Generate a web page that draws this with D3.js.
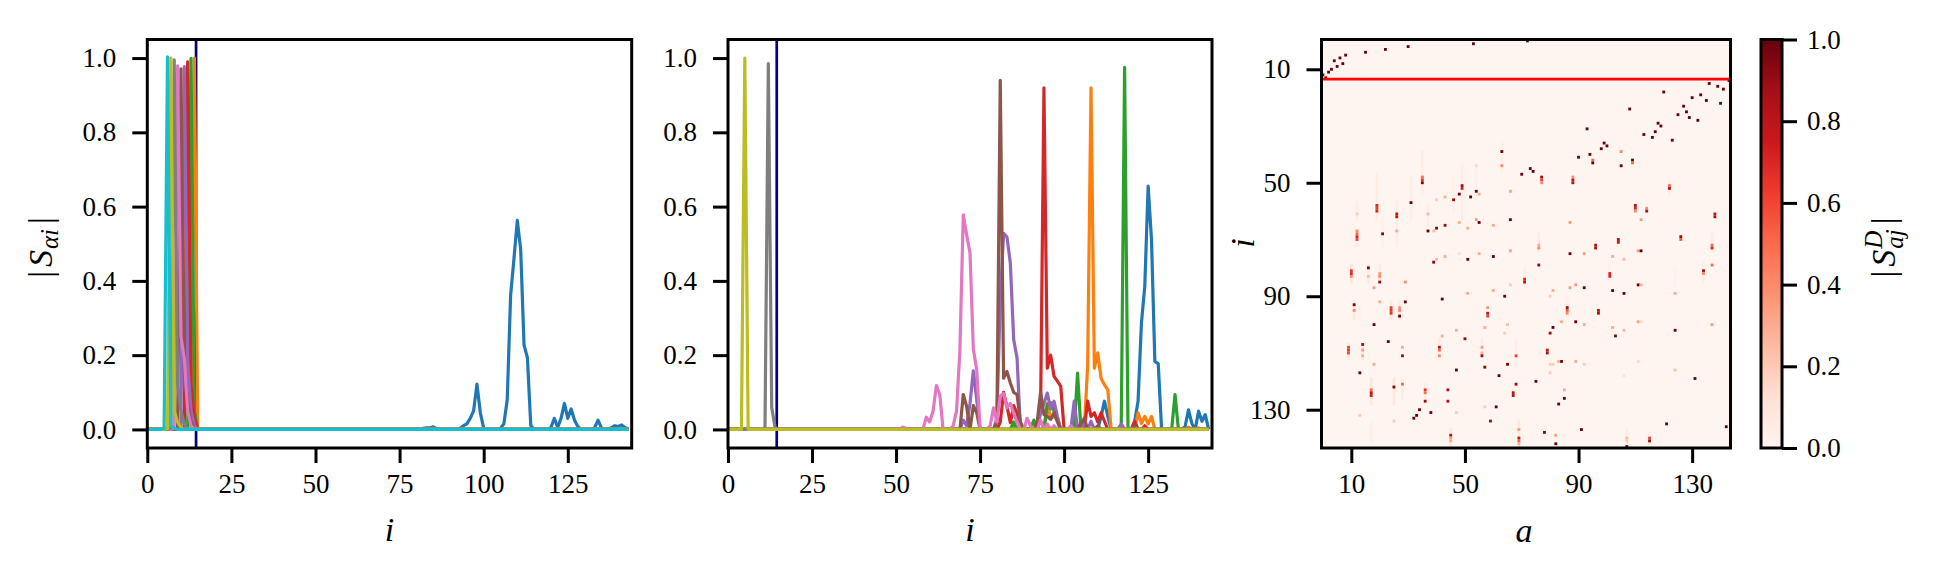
<!DOCTYPE html>
<html><head><meta charset="utf-8">
<script src="https://cdn.jsdelivr.net/npm/d3@7"></script>
<style>html,body{margin:0;padding:0;background:#fff}svg{display:block}text{font-family:"Liberation Serif",serif;fill:#000}</style>
</head><body><svg id="c" width="1942" height="579"></svg>
<script>
// ---------- data ----------
const lineTicks=[0,25,50,75,100,125];
const yTicks=[0,0.2,0.4,0.6,0.8,1.0];
const heatTicks=[10,50,90,130];
const cbarTicks=[0,0.2,0.4,0.6,0.8,1.0];
const markerLeft=14.5, markerHeat=13.5;

const left0=[[80,.002],[82,.003],[83,.004],[84,.004],[85,.007],[86,.002],[93,.003],[94,.01],[95,.015],[96,.03],[97,.05],[98,.122],[99,.045],[100,.003],[105,.003],[106,.015],[107,.08],[108,.36],[109,.46],[110,.563],[111,.484],[112,.227],[113,.193],[114,.01],[120,.005],[121,.03],[122,.005],[123,.03],[124,.07],[125,.03],[126,.055],[127,.025],[128,.008],[133,.005],[134,.025],[135,.004],[138,.005],[139,.01],[140,.008],[141,.012],[142,.005],[143,.002]];
const left1=[[13,.003],[14,1.0]];
const left2=[[12,.004],[13,.999],[14,.05]];
const left3=[[11,.003],[12,.99],[13,.12],[14,.03]];
const left4=[[10,.004],[11,.977],[12,.18],[13,.05],[14,.01]];
const left5=[[9,.003],[10,.971],[11,.16],[12,.07],[13,.02]];
const left6=[[8,.004],[9,.979],[10,.25],[11,.19],[12,.05],[13,.01]];
const left7=[[7,.003],[8,.995],[9,.12],[10,.05],[11,.015]];
const left8=[[6,.002],[7,1.0],[8,.05],[9,.02],[10,.005]];
const left9=[[5,.002],[6,1.003],[7,.01],[8,.003]];

const mid0=[[111,.035],[112,.076],[113,.035],[121,.022],[122,.076],[123,.286],[124,.385],[125,.655],[126,.511],[127,.183],[128,.177],[136,.008],[137,.053],[138,.016],[140,.049],[141,.022],[142,.04]];
const mid1=[[85,.01],[95,.07],[96,.03],[97,.035],[98,.027],[107,.17],[108,.92],[109,.165],[110,.206],[111,.138],[112,.12],[113,.107],[122,.045],[123,.016],[124,.035],[125,.015],[126,.035],[137,.006],[140,.004]];
const mid2=[[85,.02],[91,.025],[95,.067],[96,.072],[97,.05],[98,.03],[104,.152],[117,.01],[118,.975],[119,.005],[133,.094]];
const mid3=[[81,.02],[82,.1],[83,.062],[84,.018],[85,.064],[86,.044],[93,.05],[94,.92],[95,.165],[96,.2],[97,.143],[98,.13],[99,.116],[105,.018],[107,.076],[108,.035],[109,.045],[110,.02],[111,.045],[112,.022],[121,.022],[124,.01]];
const mid4=[[70,.025],[71,.01],[72,.07],[73,.158],[74,.08],[80,.03],[81,.35],[82,.528],[83,.518],[84,.448],[85,.242],[86,.192],[93,.045],[94,.07],[95,.098],[96,.055],[97,.076],[98,.035],[103,.076],[106,.02],[108,.022],[117,.015]];
const mid5=[[70,.094],[71,.062],[73,.064],[74,.045],[80,.02],[81,.94],[82,.138],[83,.156],[84,.125],[85,.1],[86,.094],[87,.02],[92,.02],[93,.1],[94,.04],[95,.035],[96,.027],[97,.045],[98,.02],[105,.015],[106,.03],[110,.01],[121,.01]];
const mid6=[[52,.006],[53,.003],[59,.033],[60,.02],[61,.049],[62,.118],[63,.094],[67,.01],[68,.05],[69,.215],[70,.578],[71,.524],[72,.475],[73,.215],[74,.161],[78,.01],[79,.058],[80,.02],[81,.09],[82,.097],[83,.058],[84,.07],[85,.044],[86,.02],[89,.03],[90,.01],[93,.025],[95,.015],[97,.01],[102,.01]];
const mid7=[[12,.985],[13,.06],[14,.005]];
const mid8=[[5,1.0]];

const leftSeries=[left0,left1,left2,left3,left4,left5,left6,left7,left8,left9];
const midSeries=[mid0,mid1,mid2,mid3,mid4,mid5,mid6,mid7,mid8];

// faint vertical runs: column, first row, last row, value
const heatRuns=[[12,57,63,.05],[19,47,63,.05],[26,57,68,.05],[31,48,63,.04],[35,39,54,.05],[37,58,65,.04],[49,44,63,.05],[46,48,60,.03],[63,36,46,.04],[54,44,52,.03],
[10,79,85,.1],[16,79,85,.06],[20,79,85,.08],[24,92,98,.07],[11,92,98,.08],[27,92,98,.06],[13,93,98,.03],[9,107,112,.08],[14,107,112,.08],[17,119,128,.08],[25,119,128,.08],[36,121,128,.05],[28,119,126,.05],[45,137,143,.08],[17,135,141,.05],[12,67,72,.06],[21,62,72,.03],[26,68,72,.04],[41,105,112,.05],[56,105,111,.05],[76,68,74,.06],[137,68,74,.06],[134,78,85,.04],[101,78,84,.03],[71,80,86,.04],[122,49,54,.04],[96,70,74,.03],[69,134,143,.07],[107,137,143,.06],[78,135,140,.04],[115,138,142,.04],[124,80,86,.03],[68,105,112,.04],[86,90,97,.04]];

// cells: column, row, value
const heatCells=[[0,12,1],[1,13,1],[2,11,1],[3,10,1],[4,7,1],[5,9,1],[6,6,1],[7,8,1],[8,5,1],[15,4,1],[22,3,1],[30,2,1],[53,1,1],[72,0,1],
[143,14,1],[136,15,1],[139,16,1],[141,17,1],[120,18,1],[133,19,1],[130,20,1],[135,21,1],[140,22,1],[127,23,1],[108,24,1],[128,25,1],[125,26,1],[129,27,1],[132,28,1],[118,29,1],[119,30,1],[93,31,1],[117,32,1],[113,33,1],[116,34,1],[123,35,1],[99,36,1],[100,37,1],[98,38,1],[105,39,.4],[63,39,1],[94,40,1],[90,41,1],[109,42,1],[109,43,.5],[95,42,.5],[95,43,1],[105,44,1],[63,44,.4],[73,45,1],[74,46,1],[70,47,1],
[77,48,.9],[77,49,.6],[77,50,.4],[88,48,.4],[88,49,.8],[88,50,.85],[122,51,.5],[122,52,.8],[66,53,.3],[110,58,.85],[110,59,.7],[110,60,.4],[114,59,.4],[114,60,.85],[138,61,.8],[138,62,.85],[66,63,1],[112,63,.35],[87,64,.35],[126,69,.9],[126,70,.55],[104,70,.85],[104,71,.75],[137,72,.5],[137,73,.7],[76,72,.3],[76,73,.4],[96,72,.8],[96,73,.85],[66,74,.3],[87,75,1],[92,75,.35],[111,74,.35],[112,74,1],[102,76,.3],[106,77,.25],[76,79,.9],[137,79,.5],[134,81,.85],[134,82,.4],[101,82,.7],[101,83,.7],[71,84,.7],[71,85,.8],[111,86,1],[112,86,.3],[92,87,1],[89,86,.35],[87,87,.35],[102,88,1],[81,88,.3],[106,89,1],[124,89,.3],[80,90,.2],[64,90,1],[86,94,.85],[86,95,.55],[86,96,.4],[97,95,.8],[97,96,.85],[89,99,1],[111,99,.35],[112,99,.15],[84,99,.3],[65,100,.25],[92,100,.3],[137,100,.35],[81,101,1],[102,101,.3],[124,102,1],[106,102,.25],[80,103,.9],[103,104,.95],[64,103,.2],[79,109,.8],[79,110,.85],[68,111,.6],[84,113,1],[83,113,.3],[89,113,.3],[111,113,.15],[92,114,.2],[65,114,1],[80,114,.2],[81,114,.2],[124,116,.25],[80,117,.2],[106,118,.12],[131,119,1],[75,120,1],[68,121,.9],[67,124,.8],[67,125,.85],[85,123,.3],[85,126,1],[83,128,1],[121,135,1],[142,136,1],[91,137,1],[69,137,.35],[69,140,.8],[69,141,.5],[69,142,.3],[78,138,.95],[82,139,.35],[82,142,1],[107,143,1],[107,140,.25],[107,141,.2],[115,140,.6],[115,141,.9],
[35,48,.5],[35,49,.65],[35,50,.95],[49,51,.85],[49,52,.7],[48,54,1],[54,53,1],[55,54,.3],[52,55,1],[19,58,.7],[19,59,.65],[19,60,.7],[26,61,.8],[26,62,.8],[31,57,1],[46,56,.9],[66,53,.3],[37,67,1],[40,66,.95],[43,65,.9],[48,64,.3],[51,66,.3],[54,63,.35],[55,64,1],[60,65,.3],[39,67,.25],[12,67,.4],[12,68,.5],[12,69,.7],[12,70,.6],[21,68,.95],[26,67,.3],[37,61,.25],[12,61,.2],[43,55,.3],[40,56,.2],[54,44,.15],
[51,77,1],[60,76,1],[39,78,.95],[43,76,.3],[55,75,.3],[66,74,.3],[48,75,.12],[40,77,.25],[10,81,.65],[10,82,.7],[10,83,.4],[16,80,.95],[20,85,.9],[20,82,.35],[20,83,.4],[18,87,.35],[16,83,.25],[29,85,.4],[42,91,1],[51,89,.3],[60,88,.3],[66,86,.2],[11,93,.95],[11,95,.4],[29,92,1],[20,92,.3],[24,94,.6],[24,95,.65],[24,96,.65],[27,94,.35],[27,95,.4],[27,97,1],[58,94,.35],[58,96,.8],[58,97,.6],[18,100,1],[57,101,.3],[47,102,.3],[42,104,.3],[50,105,.9],[23,106,1],[14,107,.9],[14,109,.35],[14,111,.3],[9,108,.6],[9,109,.65],[9,110,.6],[41,108,.8],[41,109,.5],[41,111,.4],[28,108,.3],[28,111,.9],[56,108,.35],[56,110,.3],[56,111,.9],[57,115,.95],[18,114,.3],[47,116,1],[13,117,1],[62,118,1],[25,122,.95],[28,121,.5],[17,123,.5],[17,124,.8],[17,125,.75],[36,123,.65],[36,124,.5],[36,127,.9],[44,123,.85],[44,127,.85],[61,129,1],[38,131,1],[34,130,1],[33,132,1],[32,133,1],[59,134,.9],[47,131,.2],[57,129,.2],[45,139,.85],[45,140,.35],[45,141,.3],[13,132,.2],[25,134,.2]];

// ---------- layout ----------
const svg=d3.select("#c");
const top_=39.5,bottom=448;
const tab=d3.schemeCategory10;
const reds=d3.piecewise(d3.interpolateRgb,d3.schemeReds[9]);
const heatColor=d3.scaleSequential(reds).domain([0,1]);

function dense(pairs){
  const m=new Map(pairs);
  return d3.range(0,144).map(i=>[i,m.get(i)||0]);
}
function styleAxis(g){
  g.select(".domain").remove();
  g.selectAll(".tick line").attr("stroke","#000").attr("stroke-width",3);
  g.selectAll(".tick text").attr("font-size",27).attr("font-family","Liberation Serif");
}
function spines(x0,x1){
  svg.append("rect").attr("x",x0).attr("y",top_).attr("width",x1-x0).attr("height",bottom-top_)
    .attr("fill","none").attr("stroke","#000").attr("stroke-width",3);
}
function mathText(x,y,rot,parts){
  const t=svg.append("text").attr("transform",`translate(${x},${y}) rotate(${rot})`).attr("text-anchor","middle");
  let cur=0;
  parts.forEach(p=>{
    const off=p.off||0;
    t.append("tspan").text(p.s).attr("font-size",p.size).attr("font-style",p.it?"italic":"normal")
      .attr("dy",off-cur).attr("dx",p.dx||0);
    cur=off;
  });
}
function linePanel(x0,x1,series,marker){
  const x=d3.scaleLinear().domain([0,144]).range([x0,x1]);
  const y=d3.scaleLinear().domain([-0.05,1.05]).range([bottom,top_]);
  const id="clip"+Math.round(x0);
  svg.append("clipPath").attr("id",id).append("rect").attr("x",x0).attr("y",top_).attr("width",x1-x0).attr("height",bottom-top_);
  const g=svg.append("g").attr("clip-path",`url(#${id})`);
  g.append("line").attr("x1",x(marker)).attr("x2",x(marker)).attr("y1",top_).attr("y2",bottom)
    .attr("stroke","#00008b").attr("stroke-width",2.7);
  const line=d3.line().x(d=>x(d[0])).y(d=>y(d[1]));
  series.forEach((s,k)=>{
    g.append("path").attr("d",line(dense(s))).attr("fill","none").attr("stroke",tab[k])
      .attr("stroke-width",3.2).attr("stroke-linejoin","round");
  });
  svg.append("g").attr("transform",`translate(0,${bottom})`)
    .call(d3.axisBottom(x).tickValues(lineTicks).tickSize(15).tickPadding(11).tickFormat(d3.format("d"))).call(styleAxis);
  svg.append("g").attr("transform",`translate(${x0},0)`)
    .call(d3.axisLeft(y).tickValues(yTicks).tickSize(15).tickPadding(16).tickFormat(d3.format(".1f"))).call(styleAxis);
  spines(x0,x1);
  mathText((x0+x1)/2,541,0,[{s:"i",size:34,it:true}]);
}
linePanel(147.3,631.7,leftSeries,markerLeft);
linePanel(728,1212,midSeries,markerLeft);

// heatmap
const hx=d3.scaleLinear().domain([-0.5,143.5]).range([1321.5,1730.5]);
const hy=d3.scaleLinear().domain([-0.5,143.5]).range([top_,bottom]);
svg.append("rect").attr("x",hx(-0.5)).attr("y",hy(-0.5)).attr("width",hx(143.5)-hx(-0.5)).attr("height",hy(143.5)-hy(-0.5)).attr("fill",heatColor(0));
const hg=svg.append("g");
hg.selectAll("rect.run").data(heatRuns).join("rect").attr("class","run")
  .attr("x",d=>hx(d[0]-.5)).attr("width",d=>hx(d[0]+.5)-hx(d[0]-.5))
  .attr("y",d=>hy(d[1]-.5)).attr("height",d=>hy(d[2]+.5)-hy(d[1]-.5)).attr("fill",d=>heatColor(d[3]));
hg.selectAll("rect.cell").data(heatCells).join("rect").attr("class","cell")
  .attr("x",d=>hx(d[0]-.5)).attr("width",d=>hx(d[0]+.5)-hx(d[0]-.5))
  .attr("y",d=>hy(d[1]-.5)).attr("height",d=>hy(d[1]+.5)-hy(d[1]-.5)).attr("fill",d=>heatColor(d[2]));
svg.append("line").attr("x1",hx(-0.5)).attr("x2",hx(143.5)).attr("y1",hy(markerHeat)).attr("y2",hy(markerHeat))
  .attr("stroke","#ff0000").attr("stroke-width",2.7);
svg.append("g").attr("transform",`translate(0,${bottom})`)
  .call(d3.axisBottom(hx).tickValues(heatTicks).tickSize(15).tickPadding(11).tickFormat(d3.format("d"))).call(styleAxis);
svg.append("g").attr("transform",`translate(${hx(-0.5)},0)`)
  .call(d3.axisLeft(hy).tickValues(heatTicks).tickSize(15).tickPadding(16).tickFormat(d3.format("d"))).call(styleAxis);
spines(hx(-0.5),hx(143.5));
mathText(1524,542,0,[{s:"a",size:34,it:true}]);
mathText(1254,243,-90,[{s:"i",size:34,it:true}]);

// colour bar
const cb=d3.scaleLinear().domain([0,1]).range([bottom,top_]);
const grad=svg.append("defs").append("linearGradient").attr("id","cbg").attr("x1",0).attr("x2",0).attr("y1",1).attr("y2",0);
d3.schemeReds[9].forEach((c,k)=>grad.append("stop").attr("offset",k/8).attr("stop-color",c));
svg.append("rect").attr("x",1761).attr("y",top_).attr("width",21).attr("height",bottom-top_).attr("fill","url(#cbg)");
svg.append("g").attr("transform","translate(1782,0)")
  .call(d3.axisRight(cb).tickValues(cbarTicks).tickSize(15).tickPadding(10).tickFormat(d3.format(".1f"))).call(styleAxis);
spines(1761,1782);

// y-axis labels
mathText(52,247.5,-90,[{s:"|",size:34},{s:"S",size:34,it:true,dx:4},{s:"αi",size:25,it:true,off:6,dx:1},{s:"|",size:34,off:0,dx:5}]);
mathText(1895,247.5,-90,[{s:"|",size:34},{s:"S",size:34,it:true,dx:4},{s:"D",size:25,it:true,off:-13,dx:1},{s:"aj",size:25,it:true,off:8,dx:-18},{s:"|",size:34,off:0,dx:5}]);
</script></body></html>
